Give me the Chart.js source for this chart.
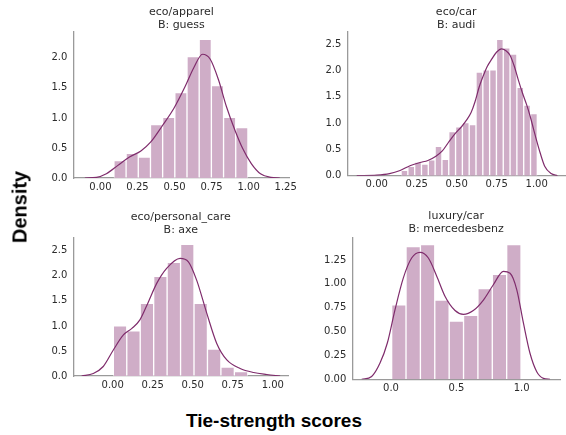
<!DOCTYPE html>
<html>
<head>
<meta charset="utf-8">
<script src="https://cdn.jsdelivr.net/npm/chart.js@4"></script>
<style>
  html, body { margin:0; padding:0; background:#fff; }
  #wrap { position:relative; width:566px; height:435px; overflow:hidden; background:#fff; }
  canvas { position:absolute; }
  .big { position:absolute; font-family:"Liberation Sans", Arial, sans-serif; font-weight:bold; color:#000; white-space:nowrap; }
</style>
</head>
<body>
<div id="wrap">
  <canvas id="c1" width="300" height="200" style="left:0px;top:0px"></canvas>
  <canvas id="c2" width="266" height="200" style="left:300px;top:0px"></canvas>
  <canvas id="c3" width="300" height="200" style="left:0px;top:200px"></canvas>
  <canvas id="c4" width="266" height="200" style="left:300px;top:200px"></canvas>
  <div class="big" id="ylab" style="font-size:20px;left:20px;top:207px;transform:translate(-50%,-50%) rotate(-90deg);">Density</div>
  <div class="big" id="xlab" style="font-size:19px;left:274px;top:421px;transform:translate(-50%,-50%);">Tie-strength scores</div>
</div>
<script>
// ---------- data ----------
const titles1 = ["eco/apparel", "B: guess"];
const binStart1 = 0.091, binWidth1 = 0.0822;
const heights1 = [0.29, 0.41, 0.35, 0.89, 1.01, 1.42, 2.02, 2.31, 1.54, 1.01, 0.84];
const kdeX1 = [-0.105,-0.027,0.04,0.118,0.196,0.273,0.34,0.418,0.496,0.573,0.629,0.689,0.74,0.796,0.85,0.907,0.96,1.018,1.08,1.15,1.21];
const kdeY1 = [0,0.01,0.07,0.21,0.35,0.45,0.60,0.87,1.16,1.53,1.83,2.06,1.98,1.64,1.19,0.80,0.49,0.24,0.07,0.01,0];
const xTicks1 = [0, 0.25, 0.5, 0.75, 1.0, 1.25];
const yTicks1 = [0, 0.5, 1.0, 1.5, 2.0];

const titles2 = ["eco/car", "B: audi"];
const binStart2 = 0.152, binWidth2 = 0.0426;
const heights2 = [0.10, 0.18, 0.26, 0.22, 0.30, 0.56, 0.31, 0.84, 0.93, 1.01, 0.97, 1.97, 2.01, 2.01, 2.59, 2.43, 2.31, 1.68, 1.34, 1.18];
const kdeX2 = [-0.125,0.0,0.08,0.146,0.208,0.27,0.32,0.37,0.41,0.45,0.49,0.53,0.56,0.59,0.614,0.64,0.66,0.69,0.72,0.75,0.78,0.81,0.833,0.86,0.885,0.91,0.938,0.96,0.98,1.0,1.02,1.05,1.09,1.13];
const kdeY2 = [0,0.01,0.04,0.10,0.19,0.25,0.29,0.37,0.47,0.64,0.80,0.93,1.05,1.20,1.40,1.68,1.85,2.07,2.22,2.35,2.41,2.37,2.29,2.08,1.82,1.58,1.34,1.12,0.89,0.66,0.45,0.18,0.04,0];
const xTicks2 = [0, 0.25, 0.5, 0.75, 1.0];
const yTicks2 = [0, 0.5, 1.0, 1.5, 2.0, 2.5];

const titles3 = ["eco/personal_care", "B: axe"];
const binStart3 = 0.004, binWidth3 = 0.084;
const heights3 = [1.00, 0.90, 1.45, 1.99, 2.27, 2.63, 1.45, 0.54, 0.18, 0.09];
const kdeX3 = [-0.194,-0.121,-0.059,0.004,0.067,0.12,0.17,0.223,0.275,0.337,0.421,0.473,0.525,0.588,0.65,0.713,0.796,0.88,0.963,1.046];
const kdeY3 = [0,0.05,0.19,0.52,0.82,0.95,1.12,1.48,1.85,2.15,2.35,2.28,1.91,1.25,0.65,0.32,0.15,0.07,0.03,0];
const xTicks3 = [0, 0.25, 0.5, 0.75, 1.0];
const yTicks3 = [0, 0.5, 1.0, 1.5, 2.0, 2.5];

const titles4 = ["luxury/car", "B: mercedesbenz"];
const binStart4 = 0.005, binWidth4 = 0.11;
const heights4 = [0.78, 1.39, 1.41, 0.83, 0.61, 0.67, 0.95, 1.10, 1.41];
const kdeX4 = [-0.224,-0.148,-0.084,-0.028,0.031,0.094,0.158,0.222,0.286,0.35,0.413,0.49,0.554,0.63,0.707,0.783,0.86,0.911,0.962,1.013,1.064,1.115,1.166,1.217];
const kdeY4 = [0,0.03,0.17,0.38,0.73,1.06,1.27,1.33,1.27,1.08,0.87,0.72,0.68,0.72,0.83,0.99,1.13,1.11,0.94,0.59,0.27,0.08,0.01,0];
const xTicks4 = [0, 0.5, 1.0];
const yTicks4 = [0, 0.25, 0.5, 0.75, 1.0, 1.25];

// ---------- styling ----------
const BAR = '#cfadc7';
const LINE = '#7f2c6c';
const AXIS = '#9a9a9a';
const TXT = '#2b2b2b';
const FONT = 'DejaVu Sans';

function makeChart(id, cfg) {
  const bars = cfg.heights.map((h, i) => ({ x: cfg.binStart + (i + 0.5) * cfg.binWidth, y: h }));
  const kde = cfg.kdeX.map((x, i) => ({ x: x, y: cfg.kdeY[i] }));
  return new Chart(document.getElementById(id), {
    type: 'bar',
    data: {
      datasets: [
        { type: 'line', data: kde, borderColor: LINE, borderWidth: 1.2, pointRadius: 0,
          fill: false, cubicInterpolationMode: 'monotone', order: 0 },
        { type: 'bar', data: bars, backgroundColor: BAR, borderColor: 'rgba(255,255,255,0.55)',
          borderWidth: 1, borderSkipped: 'bottom', barPercentage: 1.0, categoryPercentage: 1.0, order: 1 }
      ]
    },
    options: {
      responsive: false, animation: false, devicePixelRatio: 1,
      layout: { padding: { left: 0, right: cfg.padRight, top: 0, bottom: 0 } },
      plugins: {
        legend: { display: false }, tooltip: { enabled: false },
        title: { display: true, text: cfg.titles, fullSize: false, color: TXT,
                 font: { family: FONT, size: 11, weight: 'normal', lineHeight: 1.2 },
                 padding: { top: cfg.titleTop, bottom: cfg.titleBottom } }
      },
      scales: {
        x: {
          type: 'linear', min: cfg.xmin, max: cfg.xmax, offset: false,
          grid: { display: false, drawTicks: false, tickLength: 0 },
          border: { display: true, color: AXIS, width: 1.3 },
          ticks: { color: TXT, font: { family: FONT, size: 10 }, padding: 3, maxRotation: 0, autoSkip: false,
                   callback: v => Number(v).toFixed(cfg.xDec) },
          afterBuildTicks: s => { s.ticks = cfg.xTicks.map(v => ({ value: v })); },
          afterFit: s => { s.height = cfg.xH; }
        },
        y: {
          min: 0, max: cfg.ymax,
          grid: { display: false, drawTicks: false, tickLength: 0 },
          border: { display: true, color: AXIS, width: 1.3 },
          ticks: { color: TXT, font: { family: FONT, size: 10 }, padding: 6,
                   callback: v => Number(v).toFixed(cfg.yDec) },
          afterBuildTicks: s => { s.ticks = cfg.yTicks.map(v => ({ value: v })); },
          afterFit: s => { s.width = cfg.yW; }
        }
      }
    }
  });
}

makeChart('c1', { titles: titles1, binStart: binStart1, binWidth: binWidth1, heights: heights1, kdeX: kdeX1, kdeY: kdeY1,
  xTicks: xTicks1, yTicks: yTicks1, xmin: -0.183, xmax: 1.275, ymax: 2.43, xDec: 2, yDec: 1,
  yW: 73.3, xH: 22, padRight: 8, titleTop: 5.2, titleBottom: 0.4 });
makeChart('c2', { titles: titles2, binStart: binStart2, binWidth: binWidth2, heights: heights2, kdeX: kdeX2, kdeY: kdeY2,
  xTicks: xTicks2, yTicks: yTicks2, xmin: -0.184, xmax: 1.177, ymax: 2.73, xDec: 2, yDec: 1,
  yW: 47.3, xH: 24.3, padRight: 1, titleTop: 5.2, titleBottom: 0.4 });
makeChart('c3', { titles: titles3, binStart: binStart3, binWidth: binWidth3, heights: heights3, kdeX: kdeX3, kdeY: kdeY3,
  xTicks: xTicks3, yTicks: yTicks3, xmin: -0.246, xmax: 1.097, ymax: 2.77, xDec: 2, yDec: 1,
  yW: 73.3, xH: 24, padRight: 11.7, titleTop: 10.3, titleBottom: 0.6 });
makeChart('c4', { titles: titles4, binStart: binStart4, binWidth: binWidth4, heights: heights4, kdeX: kdeX4, kdeY: kdeY4,
  xTicks: xTicks4, yTicks: yTicks4, xmin: -0.296, xmax: 1.293, ymax: 1.487, xDec: 1, yDec: 2,
  yW: 52.3, xH: 20.7, padRight: 6, titleTop: 9.5, titleBottom: 1.4 });
</script>
</body>
</html>
